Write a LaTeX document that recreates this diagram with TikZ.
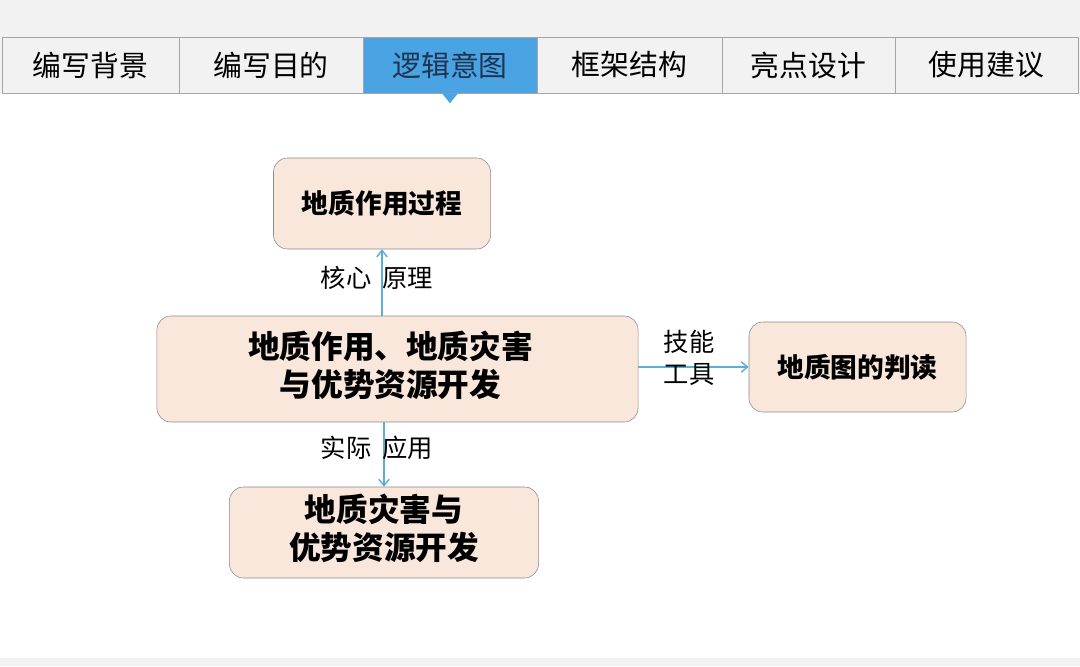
\documentclass[tikz,border=0pt]{standalone}
\usepackage{fontspec}
\setmainfont{Noto Sans CJK SC}
\usetikzlibrary{positioning, arrows.meta}
\definecolor{tabGray}{RGB}{242, 242, 243}
\definecolor{tabBlue}{RGB}{74, 163, 226}
\definecolor{tabText}{RGB}{30, 52, 80}
\definecolor{boxFill}{RGB}{248, 231, 218}
\definecolor{boxLine}{RGB}{140, 140, 140}
\definecolor{lineBlue}{RGB}{92, 174, 214}

\begin{document}
\begin{tikzpicture}[
        x=0.025cm, y=-0.025cm,
        tab/.style={
            rectangle,
            draw=gray!70,
            fill=tabGray,
            minimum height=1.4cm,
            inner sep=0pt,
            font=\fontsize{20.5}{24}\selectfont
        },
        concept/.style={
            rectangle,
            rounded corners=0.35cm,
            draw=boxLine,
            fill=boxFill,
            inner sep=0pt,
            align=center,
            font=\fontsize{19}{25}\selectfont\bfseries
        },
        tag/.style={
            align=center,
            inner sep=1pt,
            font=\fontsize{18}{23}\selectfont
        },
        flecha/.style={
            -{Straight Barb[length=1.6mm, width=2.6mm]},
            draw=lineBlue,
            line width=1pt
        }
    ]

    % page and tab bar
    \useasboundingbox (0,0) rectangle (1080,666);
    \fill[tabGray] (0,0) rectangle (1080,666);
    \fill[white] (0,93) rectangle (1080,658);

    \node[tab, minimum width=4.425cm] (t1) at (90.5,65) {编写背景};
    \node[tab, minimum width=4.6cm] (t2) at (271,65) {编写目的};
    \node[tab, minimum width=4.35cm, fill=tabBlue, text=tabText] (t3) at (450,65) {逻辑意图};
    \node[tab, minimum width=4.625cm] (t4) at (629.5,65) {框架结构};
    \node[tab, minimum width=4.325cm] (t5) at (808.5,65) {亮点设计};
    \node[tab, minimum width=4.575cm] (t6) at (986.5,65) {使用建议};
    \fill[tabBlue] ([xshift=-0.2cm]t3.south) -- ([xshift=0.2cm]t3.south)
        -- ([yshift=-0.25cm]t3.south) -- cycle;

    % diagram
    \node[concept, minimum width=5.425cm, minimum height=2.275cm] (process) at (382,203.5) {地质作用过程};
    \node[concept, minimum width=12.025cm, minimum height=2.65cm,
        font=\fontsize{22.5}{26}\selectfont\bfseries] (main) at (397.5,369)
        {\raisebox{0.12cm}{\begin{tabular}{@{}c@{}}地质作用、地质灾害\\与优势资源开发\end{tabular}}\hspace{0.35cm}};
    \node[concept, minimum width=5.425cm, minimum height=2.25cm] (mapread) at (857.5,367) {地质图的判读};
    \node[concept, minimum width=7.725cm, minimum height=2.275cm,
        font=\fontsize{22.5}{26}\selectfont\bfseries] (hazard) at (384,532.5)
        {\raisebox{0.12cm}{\begin{tabular}{@{}c@{}}地质灾害与\\优势资源开发\end{tabular}}};

    \draw[flecha] (main.north -| process.south) -- (process.south);
    \draw[flecha] (main.east |- mapread.west) -- (mapread.west);
    \draw[flecha] (main.south -| hazard.north) -- (hazard.north);

    \node[tag] (core) at (377,278) {核心\ \ 原理};
    \node[tag] (skill) at (689,358) {技能\\工具};
    \node[tag] (apply) at (377,448) {实际\ \ 应用};

\end{tikzpicture}
\end{document}
